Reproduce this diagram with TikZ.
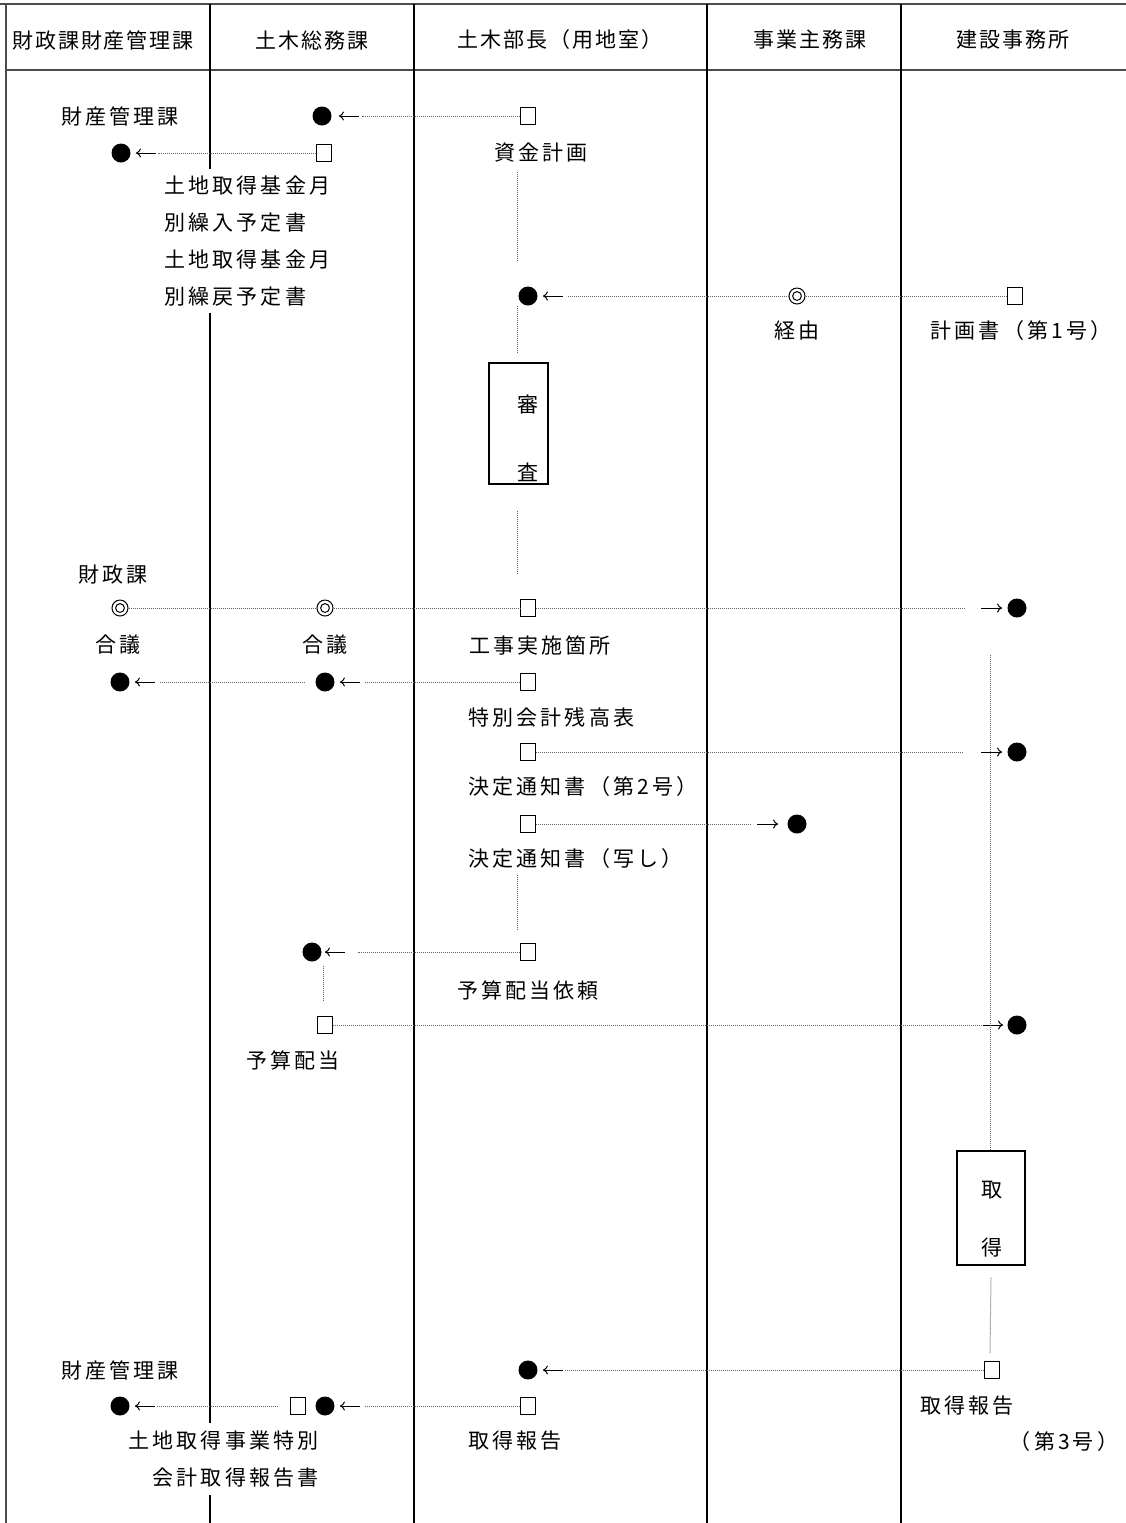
\documentclass[tikz,border=0pt]{standalone}
\usepackage{fontspec}
\newfontfamily\jpfont[LetterSpace=15]{Noto Sans CJK JP}
\newfontfamily\hdfont[LetterSpace=9]{Noto Sans CJK JP}
\usetikzlibrary{arrows.meta, calc}
\tikzstyle{txt} = [inner sep=1pt, font=\jpfont\fontsize{10.5}{18.5}\selectfont]
\tikzstyle{head} = [inner sep=1pt, font=\hdfont\fontsize{10.5}{12}\selectfont]
\tikzstyle{sq} = [draw, rectangle, line width=0.5pt, minimum width=7.5pt, minimum height=8.5pt, inner sep=0pt]
\tikzstyle{recv} = [circle, fill=black, minimum size=9.5pt, inner sep=0pt]
\tikzstyle{via} = [draw, circle, line width=0.5pt, minimum size=8pt, inner sep=0pt, path picture={\draw[line width=0.5pt] (path picture bounding box.center) circle (2.2pt);}]
\tikzstyle{wire} = [draw=black!60, line width=0.5pt, dash pattern=on 0.5pt off 0.5pt]
\tikzstyle{tip} = [-{To[length=2.5pt,width=4.5pt]}, line width=0.5pt]
\tikzstyle{proc} = [draw, rectangle, line width=0.7pt]
\tikzstyle{lane} = [line width=0.6pt]
\tikzstyle{frame} = [line width=1pt, black!70]

\begin{document}
\begin{tikzpicture}[x=0.5pt, y=-0.5pt]
    \useasboundingbox (0,0) rectangle (1126,1523);
    % frame and lanes
    \draw[frame] (0,4) -- (1126,4);
    \draw[frame] (6,4) -- (6,1523);
    \draw[frame] (6,70) -- (1126,70);
    \foreach \x in {210,414,707,901}
        \draw[lane] (\x,4) -- (\x,1523);

    % header
    \node[head] (hzai) at (103,40) {財政課財産管理課};
    \node[head] (hsou) at (312,40) {土木総務課};
    \node[head] (hbu) at (560,40) {土木部長（用地室）};
    \node[head] (hji) at (810,40) {事業主務課};
    \node[head] (hken) at (1013,40) {建設事務所};

    % shikin keikaku
    \node[txt] (zkan1) at (120,116) {財産管理課};
    \node[recv] (a1) at (322,116) {};
    \node[sq] (k1) at (528,116) {};
    \node[txt] (shikin) at (541,153) {資金計画};
    \draw[wire] (k1) -- ($(a1.east)+(30,0)$);
    \draw[tip] ($(a1.east)+(27,0)$) -- ($(a1.east)+(7,0)$);

    \node[recv] (a2) at (121,153) {};
    \node[sq] (k2) at (324,153) {};
    \draw[wire] (k2) -- ($(a2.east)+(27,0)$);
    \draw[tip] ($(a2.east)+(25,0)$) -- ($(a2.east)+(5,0)$);
    \node[txt, fill=white, align=left, anchor=west, inner ysep=3.5pt] (kikin) at (162,241) {土地取得基金月\\別繰入予定書\\土地取得基金月\\別繰戻予定書};

    % keikakusho
    \node[recv] (a3) at (528,296) {};
    \node[via] (m1) at (797,296) {};
    \node[sq] (k3) at (1015,296) {};
    \node[txt] (keiyu) at (797,331) {経由};
    \node[txt] (keikaku) at (1021,331) {計画書（第1号）};
    \draw[wire] (k3) -- (m1);
    \draw[wire] (m1) -- ($(a3.east)+(30,0)$);
    \draw[tip] ($(a3.east)+(25,0)$) -- ($(a3.east)+(5,0)$);
    \draw[wire] ($(shikin.south)+(-24,7)$) -- ($(a3.north)+(-11,-24)$);

    % shinsa
    \node[proc, minimum width=29.5pt, minimum height=60.5pt] (shinsa) at (518.5,423.5) {};
    \node[txt] (shin) at (528,404) {審};
    \node[txt] (sa) at (528,472) {査};
    \draw[wire] ($(a3.south)+(-11,0)$) -- ($(shinsa.north)+(-1.5,-10)$);

    % goi
    \node[txt] (zaisei) at (113,575) {財政課};
    \node[via] (m2) at (120,608) {};
    \node[via] (m3) at (325,608) {};
    \node[sq] (k4) at (528,608) {};
    \node[recv] (a4) at (1017,608) {};
    \node[txt] (gi1) at (118,645) {合議};
    \node[txt] (gi2) at (325,645) {合議};
    \node[txt] (kasho) at (540,645) {工事実施箇所};
    \draw[wire] ($(shinsa.south)+(-1.5,26)$) -- ($(k4.north)+(-11,-25)$);
    \draw[wire] (m2) -- (m3);
    \draw[wire] (m3) -- (k4);
    \draw[wire] (k4) -- ($(a4.west)+(-43,0)$);
    \draw[tip] ($(a4.west)+(-26,0)$) -- ($(a4.west)+(-5,0)$);

    % kettei
    \node[recv] (a5) at (120,682) {};
    \node[recv] (a6) at (325,682) {};
    \node[sq] (k5) at (528,682) {};
    \node[txt, anchor=west] (zandaka) at (466,717) {特別会計残高表};
    \draw[wire, shorten <=5pt] (a6) -- ($(a5.east)+(30,0)$);
    \draw[tip] ($(a5.east)+(25,0)$) -- ($(a5.east)+(5,0)$);
    \draw[wire] (k5) -- ($(a6.east)+(30,0)$);
    \draw[tip] ($(a6.east)+(25,0)$) -- ($(a6.east)+(5,0)$);

    \node[sq] (k6) at (528,752) {};
    \node[recv] (a7) at (1017,752) {};
    \node[txt, anchor=west] (tsuchi2) at (466,787) {決定通知書（第2号）};
    \draw[wire] (k6) -- ($(a7.west)+(-45,0)$);
    \draw[tip] ($(a7.west)+(-26,0)$) -- ($(a7.west)+(-5,0)$);

    \node[sq] (k7) at (528,824) {};
    \node[recv] (a8) at (797,824) {};
    \node[txt, anchor=west] (tsuchi3) at (466,859) {決定通知書（写し）};
    \draw[wire] (k7) -- ($(a8.west)+(-37,0)$);
    \draw[tip] ($(a8.west)+(-30,0)$) -- ($(a8.west)+(-9,0)$);

    % yosan haito
    \node[recv] (a9) at (312,952) {};
    \node[sq] (k8) at (528,952) {};
    \node[txt] (irai) at (528,990) {予算配当依頼};
    \draw[wire] ($(tsuchi3.south west)+(51,4)$) -- ($(k8.north)+(-11,-13)$);
    \draw[wire] (k8) -- ($(a9.east)+(36,0)$);
    \draw[tip] ($(a9.east)+(23,0)$) -- ($(a9.east)+(3,0)$);

    \node[sq] (k9) at (325,1025) {};
    \node[recv] (a10) at (1017,1025) {};
    \node[txt] (haito) at (293,1060) {予算配当};
    \draw[wire] ($(a9.south)+(11,4)$) -- ($(k9.north)+(-2,-16)$);
    \draw[wire] (k9) -- ($(a10.west)+(-26,0)$);
    \draw[tip] ($(a10.west)+(-24,0)$) -- ($(a10.west)+(-4,0)$);

    % shutoku
    \node[proc, minimum width=34pt, minimum height=57pt] (shutoku) at (991,1208) {};
    \node[txt] (tori) at (992,1190) {取};
    \node[txt] (toku) at (992,1248) {得};
    \draw[wire] ($(a4.south)+(-27,37)$) -- ($(shutoku.north)+(-1,0)$);

    % shutoku hokoku
    \node[txt] (zkan2) at (120,1370) {財産管理課};
    \node[recv] (a11) at (528,1370) {};
    \node[sq] (k10) at (992,1370) {};
    \node[txt] (hokoku1) at (967,1406) {取得報告};
    \node[txt] (gou3) at (1064,1442) {（第3号）};
    \draw[wire] ($(shutoku.south)+(0,12)$) -- ($(k10.north)+(-2,-8)$);
    \draw[wire] (k10) -- ($(a11.east)+(27,0)$);
    \draw[tip] ($(a11.east)+(25,0)$) -- ($(a11.east)+(5,0)$);

    \node[recv] (a12) at (120,1406) {};
    \node[sq] (k11) at (298,1406) {};
    \node[recv] (a13) at (325,1406) {};
    \node[sq] (k12) at (528,1406) {};
    \node[txt] (hokoku2) at (515,1441) {取得報告};
    \node[txt, fill=white, align=right, anchor=east, inner ysep=4pt] (tokubetsu) at (321,1459) {土地取得事業特別\\会計取得報告書};
    \draw[wire, shorten <=6pt] (k11) -- ($(a12.east)+(27,0)$);
    \draw[tip] ($(a12.east)+(25,0)$) -- ($(a12.east)+(5,0)$);
    \draw[wire] (k12) -- ($(a13.east)+(30,0)$);
    \draw[tip] ($(a13.east)+(25,0)$) -- ($(a13.east)+(5,0)$);
\end{tikzpicture}
\end{document}
